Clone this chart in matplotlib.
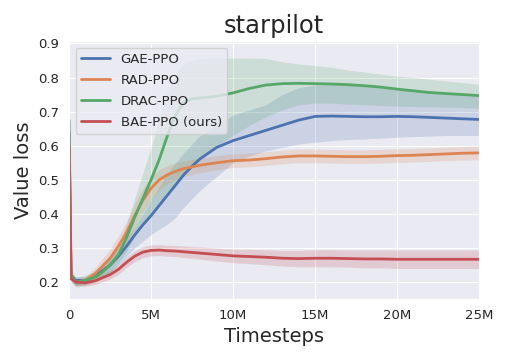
import numpy as np
import matplotlib
matplotlib.use("Agg")
import matplotlib.pyplot as plt
import seaborn as sns

sns.set_style("darkgrid")
plt.rcParams['font.family'] = ['DejaVu Sans']

# timesteps in millions
steps = [0, 0.12, 0.4, 1.0, 1.6, 2.0, 2.5, 3.0, 3.5, 4.0, 4.5, 5.0, 5.5, 6.0, 6.5, 7.0,
         7.5, 8.0, 9.0, 10.0, 11.0, 12.0, 13.0, 14.0, 15.0, 16.0, 17.0, 18.0,
         19.0, 20.0, 21.0, 22.0, 23.0, 24.0, 25.0]

gae_mean = [0.64, 0.22, 0.205, 0.205, 0.22, 0.232, 0.25, 0.275, 0.305, 0.338, 0.368, 0.395,
            0.425, 0.455, 0.485, 0.515, 0.54, 0.562, 0.595, 0.615, 0.63, 0.645, 0.66,
            0.675, 0.686, 0.687, 0.686, 0.685, 0.685, 0.686, 0.685, 0.683, 0.681, 0.679, 0.677]
gae_low = [0.62, 0.21, 0.19, 0.195, 0.205, 0.215, 0.23, 0.25, 0.275, 0.3, 0.32, 0.34,
           0.355, 0.37, 0.39, 0.42, 0.445, 0.47, 0.51, 0.55, 0.57, 0.585, 0.595,
           0.605, 0.61, 0.615, 0.618, 0.62, 0.622, 0.625, 0.627, 0.628, 0.63, 0.63, 0.63]
gae_high = [0.66, 0.23, 0.215, 0.215, 0.235, 0.25, 0.27, 0.3, 0.33, 0.36, 0.4, 0.44,
            0.48, 0.52, 0.55, 0.58, 0.605, 0.63, 0.66, 0.69, 0.705, 0.72, 0.75,
            0.77, 0.778, 0.78, 0.78, 0.778, 0.775, 0.77, 0.765, 0.76, 0.755, 0.75, 0.748]

rad_mean = [0.62, 0.22, 0.2, 0.205, 0.225, 0.245, 0.27, 0.305, 0.345, 0.395, 0.44, 0.475,
            0.5, 0.515, 0.525, 0.533, 0.538, 0.543, 0.55, 0.556, 0.558, 0.562, 0.567,
            0.57, 0.57, 0.569, 0.568, 0.568, 0.569, 0.571, 0.572, 0.574, 0.576, 0.578, 0.579]
rad_err = [0.01, 0.01, 0.01, 0.012, 0.018, 0.022, 0.027, 0.03, 0.033, 0.035, 0.035, 0.033,
           0.03, 0.027, 0.025, 0.023, 0.022, 0.022, 0.021, 0.02, 0.02, 0.02, 0.02,
           0.02, 0.02, 0.02, 0.02, 0.02, 0.02, 0.02, 0.02, 0.02, 0.02, 0.02, 0.02]

drac_mean = [0.675, 0.22, 0.2, 0.205, 0.215, 0.228, 0.25, 0.28, 0.33, 0.39, 0.445, 0.5,
             0.56, 0.63, 0.69, 0.728, 0.738, 0.74, 0.745, 0.755, 0.768, 0.778, 0.782,
             0.783, 0.782, 0.781, 0.779, 0.776, 0.772, 0.766, 0.761, 0.756, 0.753, 0.75, 0.747]
drac_low = [0.66, 0.2, 0.185, 0.19, 0.2, 0.21, 0.23, 0.255, 0.29, 0.335, 0.37, 0.405,
            0.43, 0.46, 0.49, 0.52, 0.545, 0.57, 0.6, 0.63, 0.66, 0.685, 0.705,
            0.72, 0.725, 0.725, 0.722, 0.72, 0.718, 0.716, 0.715, 0.714, 0.713, 0.712, 0.71]
drac_high = [0.69, 0.235, 0.215, 0.22, 0.23, 0.245, 0.27, 0.305, 0.37, 0.445, 0.52, 0.595,
             0.68, 0.76, 0.81, 0.84, 0.85, 0.855, 0.857, 0.857, 0.857, 0.856, 0.846,
             0.84, 0.835, 0.83, 0.822, 0.816, 0.81, 0.804, 0.8, 0.795, 0.79, 0.785, 0.78]

bae_mean = [0.6, 0.21, 0.2, 0.198, 0.204, 0.212, 0.222, 0.237, 0.258, 0.276, 0.288, 0.293,
            0.294, 0.292, 0.291, 0.289, 0.287, 0.285, 0.281, 0.277, 0.275, 0.273, 0.27,
            0.269, 0.27, 0.27, 0.269, 0.268, 0.268, 0.267, 0.267, 0.267, 0.267, 0.267, 0.267]
bae_err = [0.01, 0.01, 0.01, 0.01, 0.011, 0.012, 0.013, 0.014, 0.015, 0.016, 0.016, 0.016,
           0.016, 0.016, 0.016, 0.017, 0.017, 0.018, 0.019, 0.02, 0.021, 0.022, 0.023,
           0.024, 0.025, 0.025, 0.025, 0.026, 0.026, 0.027, 0.027, 0.027, 0.027, 0.027, 0.027]

labels = ['GAE-PPO', 'RAD-PPO', 'DRAC-PPO', 'BAE-PPO (ours)']
colors = sns.color_palette("deep")[:4]

x = np.array(steps) * 1e6

fig, ax = plt.subplots(figsize=(5.08, 3.6), dpi=100)
fig.subplots_adjust(left=0.136, right=0.943, top=0.886, bottom=0.169)

bands = [
    (gae_mean, gae_low, gae_high),
    (rad_mean, np.array(rad_mean) - np.array(rad_err), np.array(rad_mean) + np.array(rad_err)),
    (drac_mean, drac_low, drac_high),
    (bae_mean, np.array(bae_mean) - np.array(bae_err), np.array(bae_mean) + np.array(bae_err)),
]

for (mean, low, high), label, c in zip(bands, labels, colors):
    ax.plot(x, mean, color=c, linewidth=2, label=label)
    ax.fill_between(x, low, high, color=c, alpha=0.2, linewidth=0)

ax.set_xlim(0, 25e6)
ax.set_ylim(0.15, 0.907)
ax.set_xticks([0, 5e6, 10e6, 15e6, 20e6, 25e6])
ax.set_xticklabels(['0', '5M', '10M', '15M', '20M', '25M'])
ax.set_yticks([0.2, 0.3, 0.4, 0.5, 0.6, 0.7, 0.8, 0.9])
ax.tick_params(labelsize=9.5)

ax.set_title('starpilot', fontsize=17.5)
ax.set_xlabel('Timesteps', fontsize=14)
ax.set_ylabel('Value loss', fontsize=14)
ax.legend(loc='upper left', fontsize=9.5, labelspacing=0.6, handlelength=2.2)

fig.savefig('out.png', dpi=100)
